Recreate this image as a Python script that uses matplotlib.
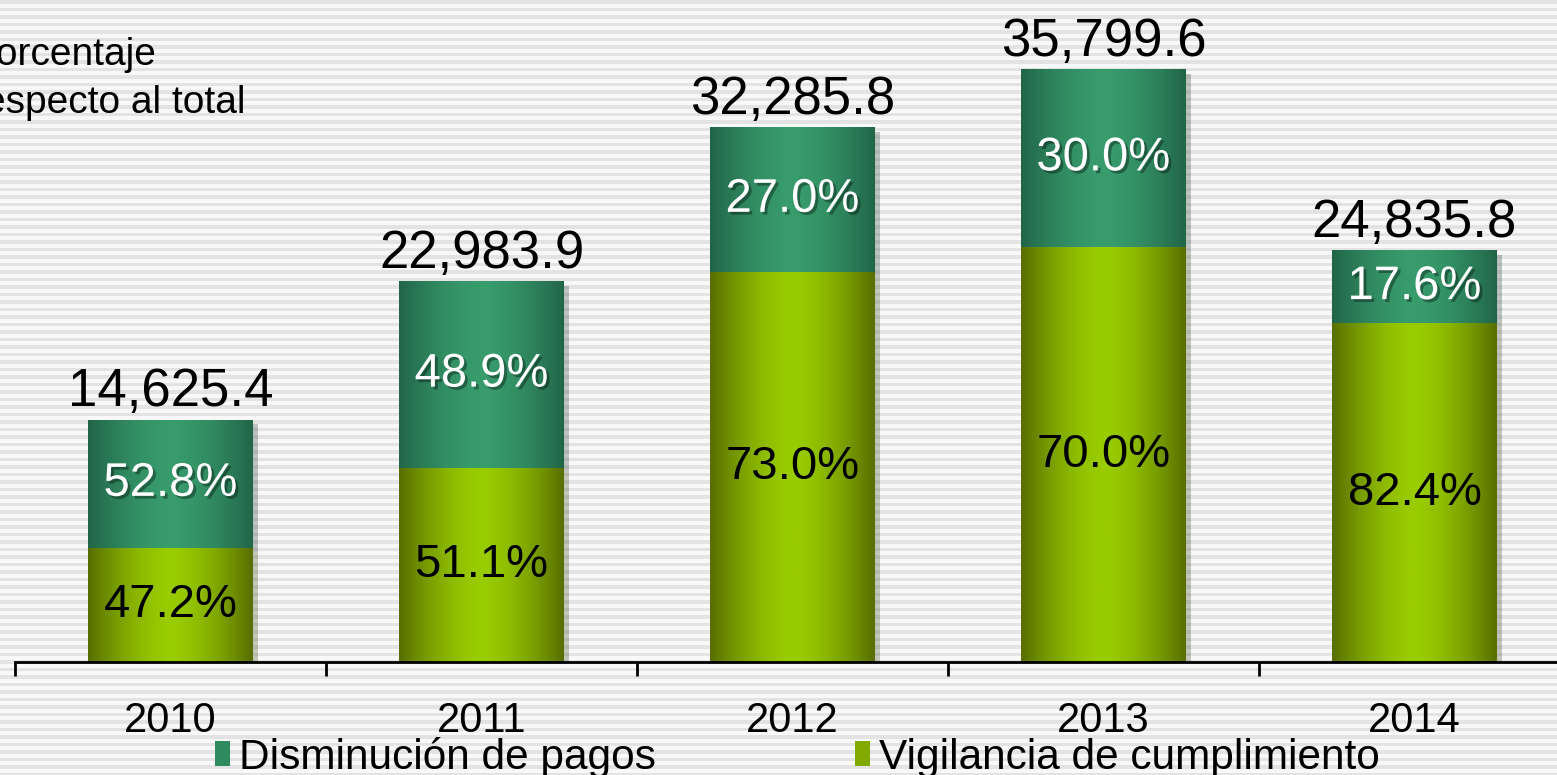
import matplotlib
matplotlib.use('Agg')
import matplotlib.pyplot as plt
import matplotlib.patheffects as pe
from matplotlib.patches import Patch
import numpy as np
from matplotlib.colors import LinearSegmentedColormap

plt.rcParams['font.family'] = ['Liberation Sans', 'DejaVu Sans']

# datos
years = ['2010', '2011', '2012', '2013', '2014']
totales = [14625.4, 22983.9, 32285.8, 35799.6, 24835.8]
pct_disminucion = [52.8, 48.9, 27.0, 30.0, 17.6]
pct_vigilancia = [47.2, 51.1, 73.0, 70.0, 82.4]

W, H = 1557, 775
fig = plt.figure(figsize=(W / 100, H / 100), dpi=100)

# fondo rayado
bg = fig.add_axes([0, 0, 1, 1], zorder=-10)
rows = np.arange(H)
stripe = ((rows % 7.5) < 3.2).astype(float)
bg.imshow(stripe[:, None], cmap=LinearSegmentedColormap.from_list('s', ['#f8f8f8', '#e3e3e3']),
          aspect='auto', extent=[0, 1, 0, 1], interpolation='nearest')
bg.axis('off')

ax = fig.add_axes([15 / W, 113 / H, 1555 / W, 662 / H])
ax.patch.set_visible(False)

x = np.arange(len(years))
vig = [t * p / 100 for t, p in zip(totales, pct_vigilancia)]
dis = [t * p / 100 for t, p in zip(totales, pct_disminucion)]

shadow = [pe.SimplePatchShadow(offset=(4, -3), alpha=0.25), pe.Normal()]
b_vig = ax.bar(x, vig, width=0.53, color='#80aa00', zorder=2)
b_dis = ax.bar(x, dis, width=0.53, bottom=vig, color='#2e8b5e', zorder=2)

cm_vig = LinearSegmentedColormap.from_list('v', ['#586e00', '#99cc00'])
cm_dis = LinearSegmentedColormap.from_list('d', ['#216548', '#389c6d'])
xx = np.linspace(0, 1, 200)
grad = (1 - np.abs(2 * xx - 1) ** 1.6)[None, :]
for bars, cm in [(b_vig, cm_vig), (b_dis, cm_dis)]:
    for p in bars:
        p.set_path_effects(shadow)
        x0, y0, w, h = p.get_x(), p.get_y(), p.get_width(), p.get_height()
        ax.imshow(grad, cmap=cm, aspect='auto', extent=[x0, x0 + w, y0, y0 + h], zorder=3)

ax.set_xlim(-0.5, 4.5)
ax.set_ylim(0, 40000)

# etiquetas
txt_shadow = [pe.withSimplePatchShadow(offset=(2, -2), shadow_rgbFace='black', alpha=0.35)]
for i in range(len(years)):
    ax.annotate(f'{totales[i]:,.1f}', (x[i], totales[i]), xytext=(0, 10), textcoords='offset points',
                ha='center', va='baseline', fontsize=38, zorder=5)
    ax.text(x[i], vig[i] + dis[i] / 2, f'{pct_disminucion[i]:.1f}%', ha='center', va='center',
            fontsize=34, color='white', zorder=5, path_effects=txt_shadow)
    ax.text(x[i], vig[i] / 2, f'{pct_vigilancia[i]:.1f}%', ha='center', va='center',
            fontsize=34, color='black', zorder=5)

for s in ['top', 'right', 'left']:
    ax.spines[s].set_visible(False)
ax.spines['bottom'].set_linewidth(2)
ax.spines['bottom'].set_zorder(4)
ax.set_yticks([])
ax.set_xticks(np.arange(-0.5, 5, 1))
ax.set_xticks(x, labels=years, minor=True)
ax.tick_params(axis='x', which='major', length=10, width=2, labelbottom=False)
ax.tick_params(axis='x', which='minor', length=0, labelsize=30, pad=28)

fig.text(-29 / W, 1 - 65 / H, 'Porcentaje', fontsize=28, ha='left', va='baseline')
fig.text(-29 / W, 1 - 113 / H, 'respecto al total', fontsize=28, ha='left', va='baseline')

handles = [Patch(facecolor='#2e8b5e'), Patch(facecolor='#80aa00')]
fig.legend(handles, ['Disminución de pagos', 'Vigilancia de cumplimiento'],
           loc='center', bbox_to_anchor=(0.512, 0.023), ncol=2, frameon=False, fontsize=30.5,
           handlelength=0.36, handleheight=0.55, handletextpad=0.2, columnspacing=4.7, borderpad=0)

fig.savefig('out.png', dpi=100)
